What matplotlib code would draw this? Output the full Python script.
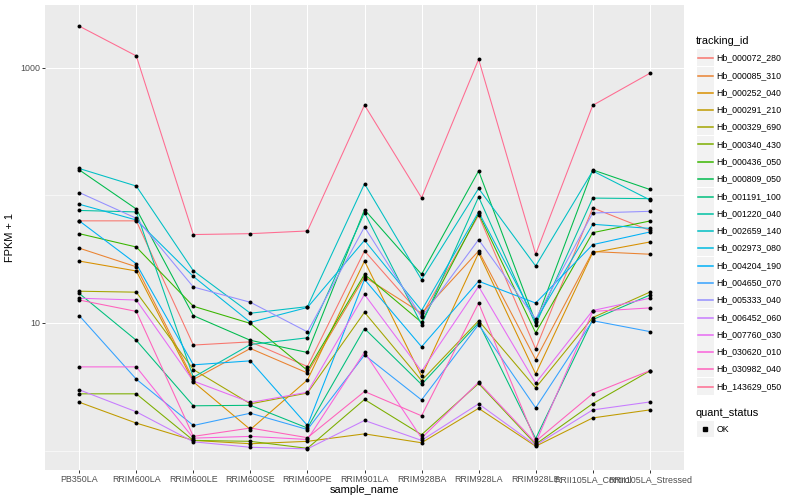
import numpy as np
import matplotlib
matplotlib.use("Agg")
import matplotlib.pyplot as plt
from matplotlib.lines import Line2D
from matplotlib.patches import Rectangle
from matplotlib.ticker import FixedLocator, NullFormatter

plt.rcParams['font.family'] = ['Liberation Sans', 'DejaVu Sans']

# ---------- DATA ----------

samples = ["PB350LA", "RRIM600LA", "RRIM600LE", "RRIM600SE", "RRIM600PE",
           "RRIM901LA", "RRIM928BA", "RRIM928LA", "RRIM928LE",
           "RRII105LA_Control", "RRII105LA_Stressed"]

tracking_ids = ["Hb_000072_280", "Hb_000085_310", "Hb_000252_040", "Hb_000291_210",
                "Hb_000329_690", "Hb_000340_430", "Hb_000436_050", "Hb_000809_050",
                "Hb_001191_100", "Hb_001220_040", "Hb_002659_140", "Hb_002973_080",
                "Hb_004204_190", "Hb_004650_070", "Hb_005333_040", "Hb_006452_060",
                "Hb_007760_030", "Hb_030620_010", "Hb_030982_040", "Hb_143629_050"]

# ggplot default hue palette for 20 levels
colours = ["#F8766D", "#EA8331", "#D89000", "#C09B00", "#A3A500", "#7CAE00",
           "#39B600", "#00BB4E", "#00BF7D", "#00C1A3", "#00BFC4", "#00BAE0",
           "#00B0F6", "#35A2FF", "#9590FF", "#C77CFF", "#E76BF3", "#FA62DB",
           "#FF62BC", "#FF6C91"]

# FPKM + 1 per sample
hb_000072_280 = [63, 63, 6.7, 7.1, 4.55, 36.6, 11.4, 69.7, 6.25, 79.6, 53]
hb_000085_310 = [38.5, 27.5, 3.6, 6.3, 4.05, 22.9, 11.9, 36.6, 5.16, 36.2, 34.5]
hb_000252_040 = [30.5, 25.5, 3.45, 1.46, 3.57, 30.5, 3.82, 35.3, 3.98, 35.5, 43]
hb_000291_210 = [2.39, 1.64, 1.2, 1.13, 1.18, 1.35, 1.15, 2.14, 1.08, 1.8, 2.08]
hb_000329_690 = [17.7, 17.4, 4.31, 2.32, 2.82, 12.1, 3.53, 10.4, 3.1, 11, 17.4]
hb_000340_430 = [2.78, 2.78, 1.2, 1.18, 1.04, 2.51, 1.33, 3.35, 1.12, 2.33, 4.2]
hb_000436_050 = [50, 39.3, 13.5, 9.9, 4.24, 24, 10.1, 72, 8.35, 50.9, 62.8]
hb_000809_050 = [158, 78, 11.4, 7.3, 5.86, 77, 24, 155, 10.1, 158, 111]
hb_001191_100 = [17, 7.3, 2.24, 2.26, 1.5, 9.03, 3.29, 10, 1.24, 10.6, 16.5]
hb_001220_040 = [76, 74, 3.75, 6.77, 7.64, 73, 9.7, 97, 9.7, 95, 94]
hb_002659_140 = [162, 118, 25.6, 11.9, 13.4, 123, 21.8, 113, 27.9, 155, 92]
hb_002973_080 = [85, 64, 23.1, 10.1, 13.2, 44.3, 12.5, 74, 10.4, 59.2, 55]
hb_004204_190 = [63, 29, 4.69, 5.04, 1.57, 21.9, 6.5, 21.2, 14.3, 41, 51.5]
hb_004650_070 = [11.4, 3.62, 1.57, 1.96, 1.46, 5.6, 2.49, 9.7, 2.16, 10.4, 8.55]
hb_005333_040 = [105, 66, 19.1, 14.5, 8.5, 56.4, 11.1, 44.9, 10.7, 72.6, 74.8]
hb_006452_060 = [2.99, 2.01, 1.17, 1.06, 1.03, 1.72, 1.2, 2.32, 1.1, 2.08, 2.4]
hb_007760_030 = [15.6, 15.1, 3.5, 2.38, 2.86, 16.7, 4.18, 19.3, 3.37, 12.5, 15.6]
hb_030620_010 = [4.52, 4.52, 1.25, 1.29, 1.22, 5.9, 1.25, 3.43, 1.15, 12.3, 13.1]
hb_030982_040 = [15.1, 12.3, 1.29, 1.5, 1.26, 2.9, 1.87, 14.3, 1.18, 2.79, 4.22]
hb_143629_050 = [2113, 1235, 49.2, 50, 52.5, 509, 95.5, 1162, 34.5, 506, 902]

series = [hb_000072_280, hb_000085_310, hb_000252_040, hb_000291_210,
          hb_000329_690, hb_000340_430, hb_000436_050, hb_000809_050,
          hb_001191_100, hb_001220_040, hb_002659_140, hb_002973_080,
          hb_004204_190, hb_004650_070, hb_005333_040, hb_006452_060,
          hb_007760_030, hb_030620_010, hb_030982_040, hb_143629_050]

# ---------- PLOT ----------

W, H = 800, 500
fig = plt.figure(figsize=(8, 5), dpi=100)
ax = fig.add_axes([45 / W, 30 / H, (684 - 45) / W, (470 - 5) / H])
ax.set_facecolor('#EBEBEB')
for s in ax.spines.values():
    s.set_visible(False)

x = np.arange(len(samples))
for vals, col in zip(series, colours):
    ax.plot(x, vals, color=col, lw=0.77, zorder=2)
for vals in series:
    ax.scatter(x, vals, color='black', s=8, marker='o', linewidths=0, zorder=3)

ax.set_yscale('log')
logs = np.log10(np.concatenate([np.array(v, dtype=float) for v in series]))
lo, hi = logs.min(), logs.max()
pad = 0.05 * (hi - lo)
ax.set_ylim(10 ** (lo - pad), 10 ** (hi + pad))
ax.set_xlim(-0.6, len(samples) - 0.4)

ax.yaxis.set_major_locator(FixedLocator([10, 1000]))
ax.yaxis.set_minor_locator(FixedLocator([1, 100]))
ax.yaxis.set_minor_formatter(NullFormatter())
ax.set_yticklabels(["10", "1000"])
ax.set_xticks(x)
ax.set_xticklabels(samples)

ax.set_axisbelow(True)
ax.grid(which='major', color='white', lw=0.77)
ax.grid(which='minor', axis='y', color='white', lw=0.4)
ax.tick_params(which='major', labelsize=6.4, labelcolor='#4D4D4D', color='#333333',
               length=2, width=0.7, pad=1.5)
ax.tick_params(which='minor', length=0)

ax.set_xlabel('sample_name', fontsize=7.9, labelpad=1)
ax.set_ylabel('FPKM + 1', fontsize=7.9, labelpad=4)


# ---------- LEGENDS ----------

def fx(px):
    return px / W


def fy(py):
    return 1 - py / H


fig.text(fx(696), fy(40.7), 'tracking_id', fontsize=7.9, va='center', ha='left')
for i, (name, col) in enumerate(zip(tracking_ids, colours)):
    yc = round(57.3 + i * 17.28) + 0.5
    fig.add_artist(Rectangle((fx(697), fy(yc + 8.3)), 16.6 / W, 16.6 / H,
                             transform=fig.transFigure, fc='#F2F2F2', ec='none'))
    fig.add_artist(Line2D([fx(698), fx(713)], [fy(yc), fy(yc)],
                          transform=fig.transFigure, color=col, lw=1.1))
    fig.text(fx(716.7), fy(yc), name, fontsize=6.3, va='center', ha='left')

fig.text(fx(696), fy(412.7), 'quant_status', fontsize=7.9, va='center', ha='left')
fig.add_artist(Rectangle((fx(697), fy(429 + 8.3)), 16.6 / W, 16.6 / H,
                         transform=fig.transFigure, fc='#F2F2F2', ec='none'))
fig.add_artist(Line2D([fx(705.3)], [fy(429)], transform=fig.transFigure,
                      marker='s', ms=2.6, color='black', lw=0))
fig.text(fx(716.7), fy(429), 'OK', fontsize=6.3, va='center', ha='left')

fig.savefig('out.png', dpi=100)
